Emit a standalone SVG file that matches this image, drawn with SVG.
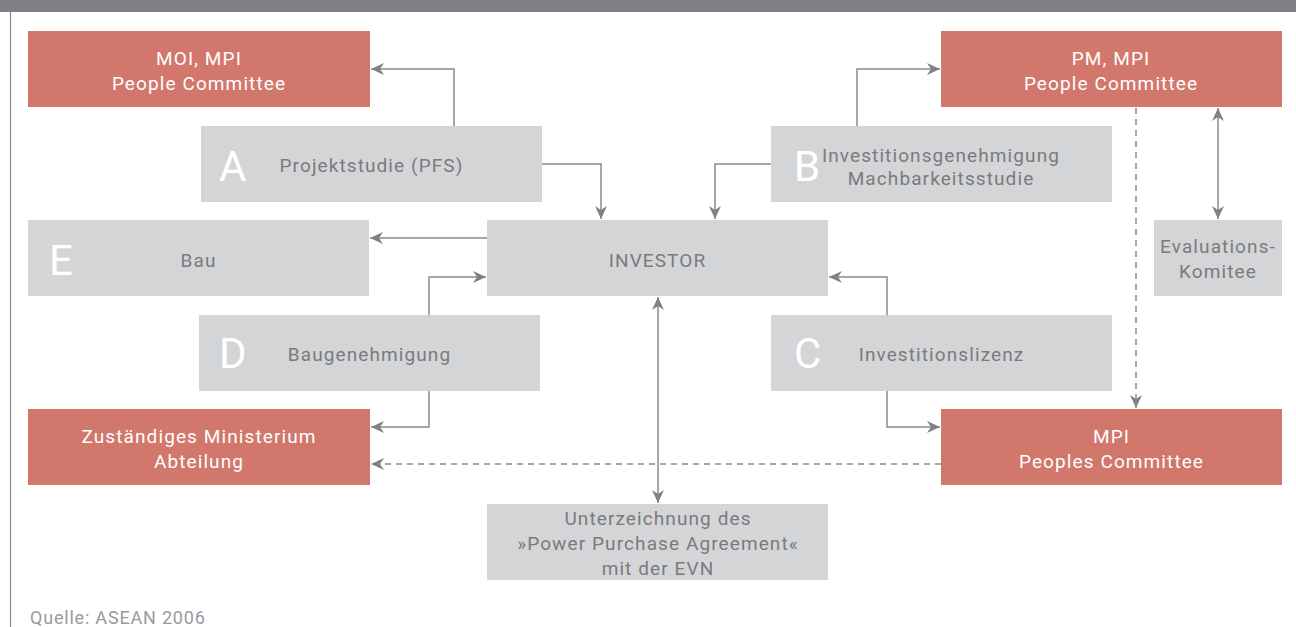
<svg xmlns="http://www.w3.org/2000/svg" width="1296" height="627" viewBox="0 0 1296 627">
<style>
.red{fill:#D2776B}
.gray{fill:#D4D5D7}
.t{font-family:Roboto,"Liberation Sans",sans-serif;font-size:19px;letter-spacing:1.1px;text-anchor:middle}
.w{fill:#ffffff}
.g{fill:#7a7a7f}
.big{font-family:Roboto,"Liberation Sans",sans-serif;font-size:42px;fill:#ffffff}
.c{fill:none;stroke:#8a8a8e;stroke-width:1.5}
.d{stroke-dasharray:6,5}
</style>
<defs>
<marker id="ah" markerWidth="14" markerHeight="12" refX="13" refY="6" orient="auto-start-reverse" markerUnits="userSpaceOnUse">
<path d="M0,0 L13,6 L0,12 L4,6 z" fill="#808085"/>
</marker>
</defs>
<rect x="0" y="0" width="1296" height="12" fill="#808084"/>
<line x1="10.5" y1="12" x2="10.5" y2="627" stroke="#8a8a8e" stroke-width="1.2"/>

<g id="connectors">
<polyline class="c" points="454,126 454,69 371,69" marker-end="url(#ah)"/>
<polyline class="c" points="542,164 601,164 601,219" marker-end="url(#ah)"/>
<polyline class="c" points="771,164 715,164 715,219" marker-end="url(#ah)"/>
<polyline class="c" points="857,126 857,69 940,69" marker-end="url(#ah)"/>
<line class="c" x1="1218" y1="108" x2="1218" y2="219" marker-start="url(#ah)" marker-end="url(#ah)"/>
<line class="c d" x1="1136" y1="108" x2="1136" y2="408" marker-end="url(#ah)"/>
<line class="c" x1="487" y1="238" x2="370" y2="238" marker-end="url(#ah)"/>
<polyline class="c" points="429,315 429,277 486,277" marker-end="url(#ah)"/>
<polyline class="c" points="887,315 887,277 829,277" marker-end="url(#ah)"/>
<polyline class="c" points="887,391 887,427 940,427" marker-end="url(#ah)"/>
<polyline class="c" points="429,391 429,427 371,427" marker-end="url(#ah)"/>
<line class="c d" x1="941" y1="464" x2="371" y2="464" marker-end="url(#ah)"/>
<line class="c" x1="658" y1="297" x2="658" y2="503" marker-start="url(#ah)" marker-end="url(#ah)"/>
</g>

<g id="moi">
<rect class="red" x="28" y="31" width="342" height="76"/>
<text class="t w" x="199" y="65">MOI, MPI</text>
<text class="t w" x="199" y="90">People Committee</text>
</g>
<g id="pm">
<rect class="red" x="941" y="31" width="341" height="76"/>
<text class="t w" x="1111" y="65">PM, MPI</text>
<text class="t w" x="1111" y="90">People Committee</text>
</g>
<g id="a">
<rect class="gray" x="201" y="126" width="341" height="76"/>
<text class="big" x="219" y="181">A</text>
<text class="t g" x="371.5" y="172">Projektstudie (PFS)</text>
</g>
<g id="b">
<rect class="gray" x="771" y="126" width="341" height="76"/>
<text class="big" x="794" y="181">B</text>
<text class="t g" x="941" y="162">Investitionsgenehmigung</text>
<text class="t g" x="941" y="185">Machbarkeitsstudie</text>
</g>
<g id="e">
<rect class="gray" x="28" y="220" width="341" height="76"/>
<text class="big" x="49" y="275">E</text>
<text class="t g" x="198.5" y="267">Bau</text>
</g>
<g id="investor">
<rect class="gray" x="487" y="220" width="341" height="76"/>
<text class="t g" x="657.5" y="267">INVESTOR</text>
</g>
<g id="eval">
<rect class="gray" x="1154" y="220" width="128" height="76"/>
<text class="t g" x="1218" y="253">Evaluations-</text>
<text class="t g" x="1218" y="278">Komitee</text>
</g>
<g id="d">
<rect class="gray" x="199" y="315" width="341" height="76"/>
<text class="big" x="219" y="368">D</text>
<text class="t g" x="369.5" y="361">Baugenehmigung</text>
</g>
<g id="c">
<rect class="gray" x="771" y="315" width="341" height="76"/>
<text class="big" x="794" y="368">C</text>
<text class="t g" x="941.5" y="361">Investitionslizenz</text>
</g>
<g id="zust">
<rect class="red" x="28" y="409" width="342" height="76"/>
<text class="t w" x="199" y="443">Zuständiges Ministerium</text>
<text class="t w" x="199" y="468">Abteilung</text>
</g>
<g id="mpi">
<rect class="red" x="941" y="409" width="341" height="76"/>
<text class="t w" x="1111.5" y="443">MPI</text>
<text class="t w" x="1111.5" y="468">Peoples Committee</text>
</g>
<g id="ppa">
<rect class="gray" x="487" y="504" width="341" height="76"/>
<text class="t g" x="658" y="525">Unterzeichnung des</text>
<text class="t g" x="658" y="550">»Power Purchase Agreement«</text>
<text class="t g" x="658" y="575">mit der EVN</text>
</g>
<text x="30" y="624" font-family="Roboto,'Liberation Sans',sans-serif" font-size="18" fill="#9a9a9e" letter-spacing="0.8">Quelle: ASEAN 2006</text>
</svg>
